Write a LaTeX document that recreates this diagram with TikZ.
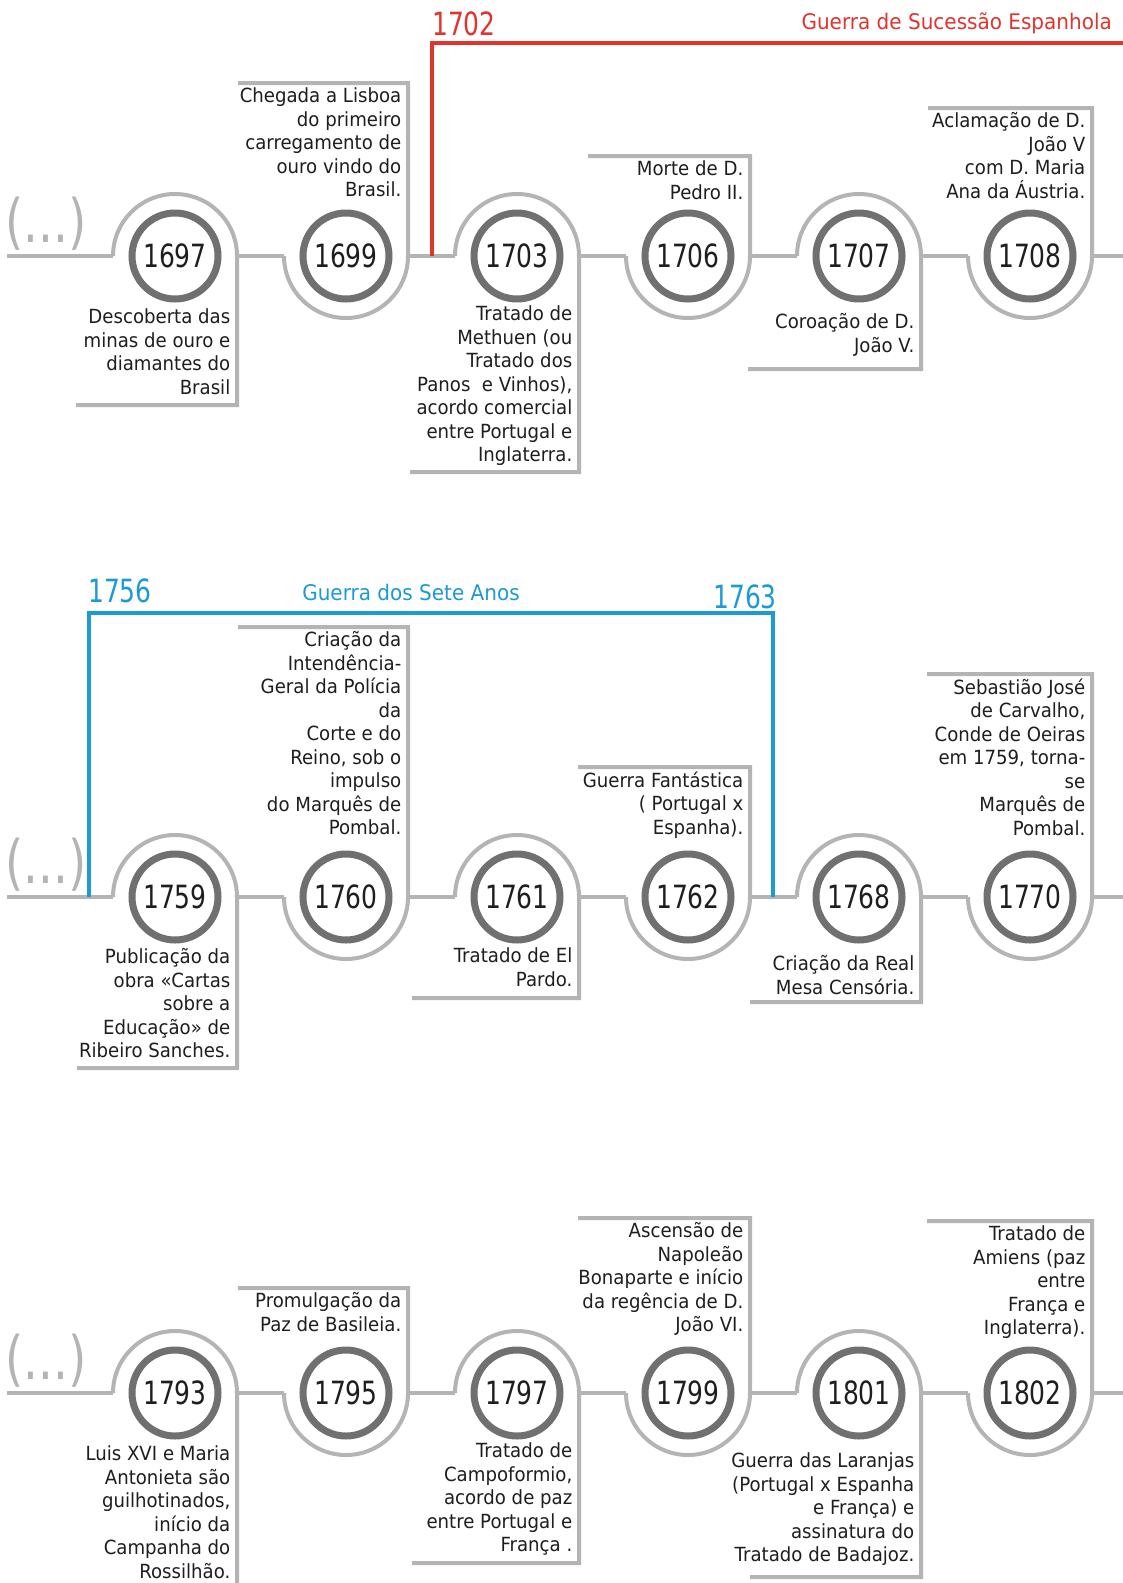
\documentclass[tikz,border=0pt]{standalone}
\usepackage{fontspec}
\setmainfont{DejaVu Sans}[FakeStretch=0.93]
\newfontfamily\yearfont{DejaVu Sans}[FakeStretch=0.78]
\newfontfamily\dotsfont{DejaVu Sans}[FakeStretch=0.78]
\definecolor{lgray}{HTML}{B4B4B4}
\definecolor{dgray}{HTML}{707070}
\definecolor{tblack}{HTML}{1E1E1E}
\definecolor{wred}{HTML}{E0342C}
\definecolor{wblue}{HTML}{1B9AD6}
\tikzset{
  gline/.style={draw=lgray, line width=4pt},
  yearc/.style={circle, draw=dgray, line width=7pt, fill=white, minimum size=86pt, inner sep=0pt, text=tblack, font=\yearfont\fontsize{32}{32}\selectfont},
  evtext/.style={anchor=north east, inner sep=0pt, align=right, text=tblack, font=\fontsize{19.5}{23.5}\selectfont, execute at begin node=\rule{0pt}{18pt}},
  dotsn/.style={anchor=south west, inner sep=0pt, text=lgray, font=\dotsfont\fontsize{60}{60}\selectfont},
  redl/.style={draw=wred, line width=3.2pt},
  bluel/.style={draw=wblue, line width=3.2pt},
  bigyear/.style={inner sep=0pt, font=\yearfont\fontsize{32}{32}\selectfont},
  wartitle/.style={inner sep=0pt, font=\fontsize{21.5}{21.5}\selectfont}
}
% event with text below (bump above)
\newcommand{\evB}[8]{%
  \node[yearc] (#1) at (#2,#3) {#4};
  \coordinate (#1-w) at ({#2-62},#3);
  \coordinate (#1-e) at ({#2+62},#3);
  \draw[gline] (#1-w) arc[start angle=180,end angle=0,radius=62pt] -- ({#2+62},#5) -- (#6,#5);
  \node[evtext] (#1-t) at ({#2+55.5},{#7-4.5}) {#8};
}
% event with text above (bump below)
\newcommand{\evA}[7]{%
  \node[yearc] (#1) at (#2,#3) {#4};
  \coordinate (#1-w) at ({#2-62},#3);
  \coordinate (#1-e) at ({#2+62},#3);
  \draw[gline] (#1-w) arc[start angle=180,end angle=360,radius=62pt] -- ({#2+62},#5) -- (#6,#5);
  \node[evtext] (#1-t) at ({#2+55.5},{#5+4.5}) {#7};
}
\begin{document}
\begin{tikzpicture}[x=1pt,y=-1pt]
\useasboundingbox (0,0) rectangle (1123,1583);
\clip (0,0) rectangle (1123,1583);
\fill[white] (0,0) rectangle (1123,1583);

% ---------------- Row 1 ----------------
\node[dotsn] (d1) at (5,251) {(...)};
\coordinate (s1) at (7,256);
\coordinate (f1) at (1130,256);
\evB{c1697}{175}{256}{1697}{405}{76}{313}{Descoberta das\\minas de ouro e\\diamantes do\\Brasil}
\evA{c1699}{346}{256}{1699}{83}{238}{Chegada a Lisboa\\do primeiro\\carregamento de\\ouro vindo do\\Brasil.}
\evB{c1703}{517}{256}{1703}{472}{410}{310}{Tratado de\\Methuen (ou\\Tratado dos\\Panos\ \ e Vinhos),\\acordo comercial\\entre Portugal e\\Inglaterra.}
\evA{c1706}{688}{256}{1706}{156}{588}{Morte de D.\\Pedro II.}
\evB{c1707}{859}{256}{1707}{369}{748}{318}{Coroação de D.\\João V.}
\evA{c1708}{1030}{256}{1708}{108}{928}{Aclamação de D.\\João V\\com D. Maria\\Ana da Áustria.}
\draw[gline] (s1) -- (c1697-w);
\draw[gline] (c1697-e) -- (c1699-w);
\draw[gline] (c1699-e) -- (c1703-w);
\draw[gline] (c1703-e) -- (c1706-w);
\draw[gline] (c1706-e) -- (c1707-w);
\draw[gline] (c1707-e) -- (c1708-w);
\draw[gline] (c1708-e) -- (f1);

\coordinate (r0) at (432,256);
\coordinate (r1) at (432,43);
\coordinate (r2) at (1130,43);
\draw[redl] (r0) -- (r1) -- (r2);
\node[bigyear, anchor=base west, text=wred] (l1702) at (432,35) {1702};
\node[wartitle, anchor=base east, text=wred] (tw1) at (1112,29) {Guerra de Sucessão Espanhola};

% ---------------- Row 2 ----------------
\node[dotsn] (d2) at (5,892) {(...)};
\coordinate (s2) at (7,897);
\coordinate (f2) at (1130,897);
\evB{c1759}{175}{897}{1759}{1068}{77}{953}{Publicação da\\obra «Cartas\\sobre a\\Educação» de\\Ribeiro Sanches.}
\evA{c1760}{346}{897}{1760}{627}{238}{Criação da\\Intendência-\\Geral da Polícia\\da\\Corte e do\\Reino, sob o\\impulso\\do Marquês de\\Pombal.}
\evB{c1761}{517}{897}{1761}{998}{412}{952}{Tratado de El\\Pardo.}
\evA{c1762}{688}{897}{1762}{767}{578}{Guerra Fantástica\\( Portugal x\\Espanha).}
\evB{c1768}{859}{897}{1768}{1002}{750}{960}{Criação da Real\\Mesa Censória.}
\evA{c1770}{1030}{897}{1770}{674}{927}{Sebastião José\\de Carvalho,\\Conde de Oeiras\\em 1759, torna-\\se\\Marquês de\\Pombal.}
\draw[gline] (s2) -- (c1759-w);
\draw[gline] (c1759-e) -- (c1760-w);
\draw[gline] (c1760-e) -- (c1761-w);
\draw[gline] (c1761-e) -- (c1762-w);
\draw[gline] (c1762-e) -- (c1768-w);
\draw[gline] (c1768-e) -- (c1770-w);
\draw[gline] (c1770-e) -- (f2);

\coordinate (b0) at (89,897);
\coordinate (b1) at (89,613);
\coordinate (b2) at (773,613);
\coordinate (b3) at (773,897);
\draw[bluel] (b0) -- (b1) -- (b2) -- (b3);
\node[bigyear, anchor=base west, text=wblue] (l1756) at (88,602) {1756};
\node[bigyear, anchor=base east, text=wblue] (l1763) at (777,608) {1763};
\node[wartitle, anchor=base, text=wblue] (tw2) at (411,600) {Guerra dos Sete Anos};

% ---------------- Row 3 ----------------
\node[dotsn] (d3) at (5,1388) {(...)};
\coordinate (s3) at (7,1393);
\coordinate (f3) at (1130,1393);
\evB{c1793}{175}{1393}{1793}{1640}{76}{1450}{Luis XVI e Maria\\Antonieta são\\guilhotinados,\\início da\\Campanha do\\Rossilhão.}
\evA{c1795}{346}{1393}{1795}{1288}{238}{Promulgação da\\Paz de Basileia.}
\evB{c1797}{517}{1393}{1797}{1563}{412}{1447}{Tratado de\\Campoformio,\\acordo de paz\\entre Portugal e\\França .}
\evA{c1799}{688}{1393}{1799}{1218}{578}{Ascensão de\\Napoleão\\Bonaparte e início\\da regência de D.\\João VI.}
\evB{c1801}{859}{1393}{1801}{1577}{750}{1457}{Guerra das Laranjas\\(Portugal x Espanha\\e França) e\\assinatura do\\Tratado de Badajoz.}
\evA{c1802}{1030}{1393}{1802}{1221}{927}{Tratado de\\Amiens (paz\\entre\\França e\\Inglaterra).}
\draw[gline] (s3) -- (c1793-w);
\draw[gline] (c1793-e) -- (c1795-w);
\draw[gline] (c1795-e) -- (c1797-w);
\draw[gline] (c1797-e) -- (c1799-w);
\draw[gline] (c1799-e) -- (c1801-w);
\draw[gline] (c1801-e) -- (c1802-w);
\draw[gline] (c1802-e) -- (f3);
\end{tikzpicture}
\end{document}
